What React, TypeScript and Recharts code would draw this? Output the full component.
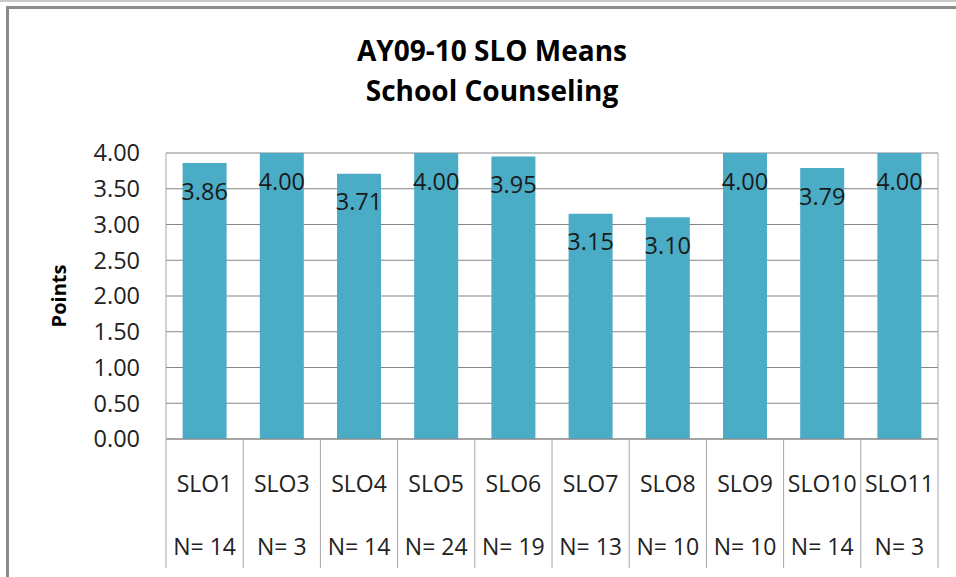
import { BarChart, Bar, XAxis, YAxis, CartesianGrid, LabelList } from 'recharts';

const categories = ['SLO1', 'SLO3', 'SLO4', 'SLO5', 'SLO6', 'SLO7', 'SLO8', 'SLO9', 'SLO10', 'SLO11'];
const means = [3.86, 4.0, 3.71, 4.0, 3.95, 3.15, 3.1, 4.0, 3.79, 4.0];
const counts = [14, 3, 14, 24, 19, 13, 10, 10, 14, 3];
const yTicks = [0, 0.5, 1, 1.5, 2, 2.5, 3, 3.5, 4];

const FONT = '"Open Sans", Lato, sans-serif';
const W = 956;
const H = 577;
const PLOT_LEFT = 166;
const PLOT_RIGHT = 938;
const PLOT_TOP = 153;
const TABLE_BOTTOM = 568;
const BAND = (PLOT_RIGHT - PLOT_LEFT) / categories.length;

const chartData = categories.map((name, i) => ({
  name,
  mean: means[i],
  n: counts[i],
}));

function CategoryTick(props: any) {
  const { x, y, payload, index } = props;
  const n = counts[index];
  const left = x - BAND / 2;
  const right = x + BAND / 2;
  const last = index === categories.length - 1;
  return (
    <g>
      <line x1={left} y1={y} x2={left} y2={TABLE_BOTTOM} stroke="#a6a6a6" />
      {last && <line x1={right} y1={PLOT_TOP} x2={right} y2={TABLE_BOTTOM} stroke="#a6a6a6" />}
      <text x={x} y={y + 53} textAnchor="middle" fontSize={23} fill="#222" fontFamily={FONT}>
        {payload.value}
      </text>
      <text x={x} y={y + 116} textAnchor="middle" fontSize={23} fill="#222" fontFamily={FONT}>
        {'N= ' + n}
      </text>
    </g>
  );
}

export default function App() {
  return (
    <div style={{ position: 'absolute', left: 0, top: 0, width: W, height: H, background: '#fff', overflow: 'hidden' }}>
      {/* frame lines */}
      <div style={{ position: 'absolute', left: 0, top: 0, width: W, height: 2, background: '#c8c8c8' }} />
      <div style={{ position: 'absolute', left: 6, top: 6, width: W - 6, height: 3, background: '#8c8c8c' }} />
      <div style={{ position: 'absolute', left: 6, top: 6, width: 3, height: H - 6, background: '#8c8c8c' }} />

      <div
        style={{
          position: 'absolute',
          left: 0,
          width: W,
          top: 30,
          textAlign: 'center',
          fontFamily: FONT,
          fontWeight: 700,
          fontSize: 28,
          lineHeight: '40px',
          color: '#000',
          paddingLeft: 14,
        }}
      >
        <div>AY09-10 SLO Means</div>
        <div>School Counseling</div>
      </div>

      <div
        style={{
          position: 'absolute',
          left: 58,
          top: 296,
          transform: 'translate(-50%, -50%) rotate(-90deg)',
          fontFamily: FONT,
          fontWeight: 700,
          fontSize: 20,
          color: '#000',
          whiteSpace: 'nowrap',
        }}
      >
        Points
      </div>

      <BarChart
        width={W}
        height={H}
        data={chartData}
        margin={{ top: PLOT_TOP, right: W - PLOT_RIGHT, bottom: 0, left: 0 }}
        barCategoryGap="21.5%"
      >
        <CartesianGrid vertical={false} stroke="#858585" />
        <XAxis
          dataKey="name"
          height={H - 439}
          interval={0}
          tickLine={false}
          tickSize={0}
          tickMargin={0}
          axisLine={{ stroke: '#858585' }}
          tick={<CategoryTick />}
        />
        <YAxis
          width={PLOT_LEFT}
          domain={[0, 4]}
          ticks={yTicks}
          interval={0}
          tickFormatter={(v: number) => v.toFixed(2)}
          tickLine={false}
          tickSize={0}
          tickMargin={26}
          axisLine={{ stroke: '#a6a6a6' }}
          tick={{ fontSize: 23.5, fill: '#222', fontFamily: FONT }}
        />
        <Bar dataKey="mean" fill="#4BACC6" isAnimationActive={false}>
          <LabelList
            dataKey="mean"
            position="insideTop"
            offset={20}
            formatter={(v: number) => v.toFixed(2)}
            style={{ fontSize: 23.5, fill: '#1a1a1a', fontFamily: FONT }}
          />
        </Bar>
      </BarChart>
    </div>
  );
}
